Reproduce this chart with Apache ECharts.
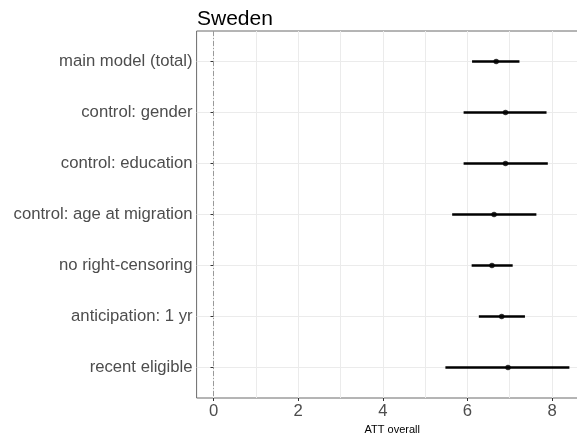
<!DOCTYPE html>
<html><head><meta charset="utf-8">
<script src="https://cdn.jsdelivr.net/npm/echarts@6/dist/echarts.min.js"></script>
<style>html,body{margin:0;padding:0;background:#fff}#c{width:577px;height:436px}</style>
</head><body><div id="c"></div>
<script>
const categories = ['main model (total)','control: gender','control: education','control: age at migration','no right-censoring','anticipation: 1 yr','recent eligible'];
const estimates = [6.68, 6.90, 6.90, 6.63, 6.58, 6.81, 6.96];
const lower = [6.11, 5.91, 5.91, 5.64, 6.10, 6.27, 5.48];
const upper = [7.23, 7.87, 7.90, 7.63, 7.07, 7.36, 8.41];
const xTicks = [0, 2, 4, 6, 8];
const xGrid = [0, 1, 2, 3, 4, 5, 6, 7, 8];
const yPos = categories.map((c, i) => i + 1);

const font = 'Liberation Sans, Arial, sans-serif';
const chart = echarts.init(document.getElementById('c'), null, {renderer: 'canvas'});
const barData = categories.map((c, i) => [lower[i], upper[i], i + 1]);
const ptData = categories.map((c, i) => [estimates[i], i + 1]);

chart.setOption({
  animation: false,
  title: {text: 'Sweden', left: 192, top: 4, textStyle: {fontFamily: font, fontSize: 21, fontWeight: 'normal', color: '#000'}},
  grid: {left: 196.6, top: 31, height: 367, width: 391.4, show: true, borderColor: '#6b6b6b', borderWidth: 1,
    containLabel: false, outerBoundsMode: 'none'},
  xAxis: [{
    type: 'value', min: -0.4, max: 8.85,
    axisLine: {show: false},
    axisTick: {show: false, customValues: xGrid},
    axisLabel: {show: false, customValues: xGrid},
    splitLine: {show: true, lineStyle: {color: '#ebebeb', width: 1}}
  }, {
    type: 'value', min: -0.4, max: 8.85, position: 'bottom',
    name: 'ATT overall', nameLocation: 'middle', nameGap: 23,
    nameTextStyle: {fontFamily: font, fontSize: 11, color: '#000'},
    axisLine: {show: false},
    axisTick: {show: true, customValues: xTicks, length: 3, lineStyle: {color: '#333'}},
    axisLabel: {show: true, customValues: xTicks, margin: 5, fontFamily: font, fontSize: 16.7, color: '#4d4d4d'},
    splitLine: {show: false}
  }],
  yAxis: {
    type: 'value', inverse: true, min: 0.4, max: 7.6,
    axisLine: {show: false},
    axisTick: {show: true, customValues: yPos, length: 3, lineStyle: {color: '#333'}},
    axisLabel: {show: true, customValues: yPos, margin: 4, fontFamily: font, fontSize: 16.7, color: '#4d4d4d',
      formatter: v => categories[Math.round(v) - 1] || ''},
    splitLine: {show: true, lineStyle: {color: '#ebebeb', width: 1}}
  },
  series: [{
    type: 'custom', xAxisIndex: 0, yAxisIndex: 0,
    data: barData,
    renderItem: (params, api) => {
      const a = api.coord([api.value(0), api.value(2)]);
      const b = api.coord([api.value(1), api.value(2)]);
      return {type: 'line', shape: {x1: a[0], y1: a[1], x2: b[0], y2: b[1]}, style: {stroke: '#000', lineWidth: 2.5}};
    },
    markLine: {
      silent: true, symbol: 'none', label: {show: false},
      lineStyle: {color: '#9a9a9a', type: [5, 2, 1, 2], width: 1},
      data: [{xAxis: 0}]
    },
    z: 3
  }, {
    type: 'scatter', xAxisIndex: 0, yAxisIndex: 0,
    data: ptData, symbol: 'circle', symbolSize: 5.5,
    itemStyle: {color: '#000'}, z: 4
  }]
});
</script></body></html>
